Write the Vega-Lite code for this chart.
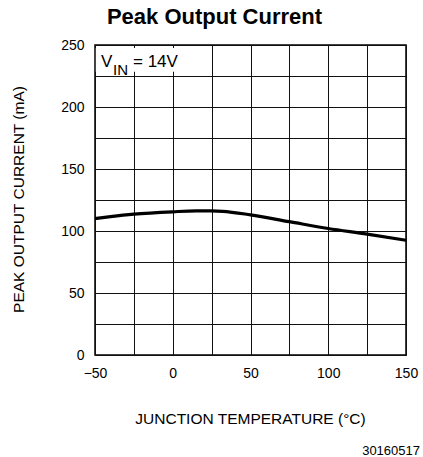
{
  "$schema": "https://vega.github.io/schema/vega-lite/v6.json",
  "autosize": {"type": "none"},
  "padding": {"left": 95, "top": 45, "right": 17, "bottom": 102},
  "width": 311,
  "height": 310,
  "background": "white",
  "title": {
    "text": "Peak Output Current",
    "font": "Liberation Sans",
    "fontSize": 22,
    "fontWeight": "bold",
    "color": "#000",
    "anchor": "middle",
    "frame": "group",
    "dx": -36,
    "baseline": "alphabetic",
    "offset": -8
  },
  "config": {
    "view": {"stroke": "#000", "strokeWidth": 1.5},
    "axis": {
      "grid": true,
      "gridColor": "#111",
      "gridWidth": 1,
      "gridOpacity": 1,
      "ticks": false,
      "domain": false,
      "labelFlush": false,
      "labelFont": "Liberation Sans",
      "labelFontSize": 14,
      "labelColor": "#000",
      "titleFont": "Liberation Sans",
      "titleFontSize": 15.5,
      "titleFontWeight": "normal",
      "titleColor": "#000"
    }
  },
  "resolve": {"axis": {"x": "independent", "y": "independent"}},
  "layer": [
    {
      "data": {
        "values": [
          {"temp": -50, "current": 110},
          {"temp": -40, "current": 111.6},
          {"temp": -25, "current": 113.6},
          {"temp": 0, "current": 115.5},
          {"temp": 15, "current": 116.2},
          {"temp": 25, "current": 116.2},
          {"temp": 32, "current": 115.9},
          {"temp": 50, "current": 113},
          {"temp": 75, "current": 107.5},
          {"temp": 100, "current": 102},
          {"temp": 125, "current": 97.5},
          {"temp": 150, "current": 92.5}
        ]
      },
      "mark": {"type": "line", "color": "#000", "strokeWidth": 3.2, "interpolate": "monotone"},
      "encoding": {
        "x": {
          "field": "temp",
          "type": "quantitative",
          "scale": {"domain": [-50, 150], "nice": false, "zero": false},
          "axis": {
            "values": [-50, -25, 0, 25, 50, 75, 100, 125, 150],
            "labelExpr": "datum.value % 50 === 0 ? datum.label : ''",
            "labelPadding": 11,
            "title": "JUNCTION TEMPERATURE (°C)",
            "titleX": 155,
            "titleY": 68,
            "titleBaseline": "alphabetic",
            "titleAlign": "center"
          }
        },
        "y": {
          "field": "current",
          "type": "quantitative",
          "scale": {"domain": [0, 250], "nice": false},
          "axis": {
            "values": [0, 25, 50, 75, 100, 125, 150, 175, 200, 225, 250],
            "labelExpr": "datum.value % 50 === 0 ? datum.label : ''",
            "labelPadding": 11,
            "title": "PEAK OUTPUT CURRENT (mA)",
            "titleAngle": -90,
            "titleX": -72,
            "titleY": 154,
            "titleBaseline": "alphabetic",
            "titleAlign": "center"
          }
        }
      }
    },
    {
      "data": {"values": [{"label": "V", "sub": "IN", "rest": "= 14V", "code": "30160517"}]},
      "layer": [
        {
          "mark": {"type": "rect", "color": "white", "opacity": 1},
          "encoding": {
            "x": {"datum": -49.5, "axis": null},
            "x2": {"datum": 7},
            "y": {"datum": 247.5, "axis": null},
            "y2": {"datum": 228.5}
          }
        },
        {
          "mark": {"type": "text", "font": "Liberation Sans", "fontSize": 17, "fontWeight": "normal", "color": "#000", "align": "left", "baseline": "alphabetic", "dx": 6, "dy": 22},
          "encoding": {"x": {"datum": -50, "axis": null}, "y": {"datum": 250, "axis": null}, "text": {"field": "label"}}
        },
        {
          "mark": {"type": "text", "font": "Liberation Sans", "fontSize": 15, "fontWeight": "normal", "color": "#000", "align": "left", "baseline": "alphabetic", "dx": 18, "dy": 30},
          "encoding": {"x": {"datum": -50, "axis": null}, "y": {"datum": 250, "axis": null}, "text": {"field": "sub"}}
        },
        {
          "mark": {"type": "text", "font": "Liberation Sans", "fontSize": 17, "fontWeight": "normal", "color": "#000", "align": "left", "baseline": "alphabetic", "dx": 38, "dy": 22},
          "encoding": {"x": {"datum": -50, "axis": null}, "y": {"datum": 250, "axis": null}, "text": {"field": "rest"}}
        },
        {
          "mark": {"type": "text", "font": "Liberation Sans", "fontSize": 13, "fontWeight": "normal", "color": "#000", "align": "right", "baseline": "alphabetic", "dx": 14, "dy": 100},
          "encoding": {"x": {"datum": 150, "axis": null}, "y": {"datum": 0, "axis": null}, "text": {"field": "code"}}
        }
      ]
    }
  ]
}
